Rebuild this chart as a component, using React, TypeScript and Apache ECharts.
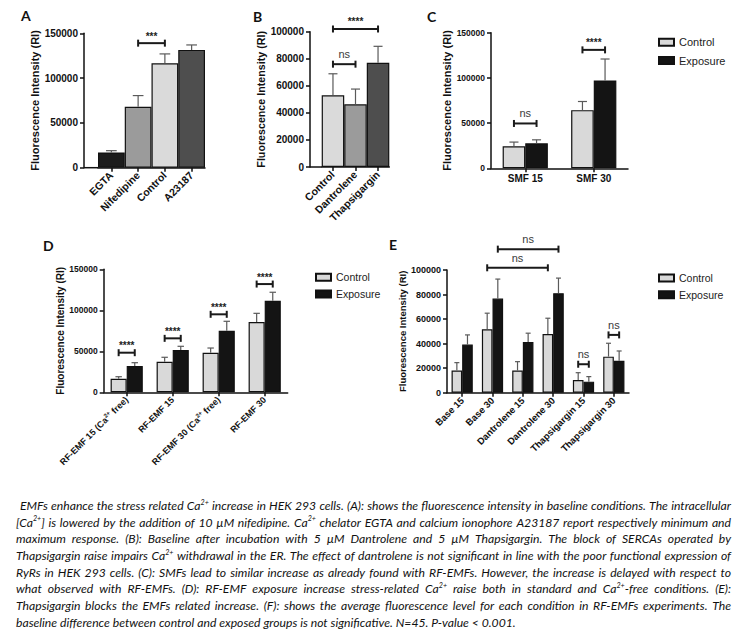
import React, { useEffect, useRef } from 'react';
import * as echarts from 'echarts';

const FONT = '"Liberation Sans", Arial, Helvetica, sans-serif';
const CAP_FONT = 'Lato, "Open Sans", sans-serif';
const LETTER_FONT = 'Lato, "Open Sans", sans-serif';
const Y_TITLE = 'Fluorescence Intensity (RI)';

// ---------- Panel A ----------
const catsA = ['EGTA', 'Nifedipine', 'Control', 'A23187'];
const valsA = [17000, 68000, 116500, 131500];
const errA = [2000, 12500, 10500, 5500];
const colorsA = ['#1c1c1c', '#9b9b9b', '#dadada', '#4e4e4e'];

// ---------- Panel B ----------
const catsB = ['Control', 'Dantrolene', 'Thapsigargin'];
const valsB = [53000, 46300, 77000];
const errB = [15900, 11300, 12200];
const colorsB = ['#dadada', '#9b9b9b', '#4e4e4e'];

// ---------- Panel C ----------
const catsC = ['SMF 15', 'SMF 30'];
const ctrlC = [24300, 64300];
const ctrlErrC = [4700, 9600];
const expC = [27600, 97100];
const expErrC = [3900, 23800];

// ---------- Panel D ----------
const catsD = ['RF-EMF 15 (Ca2+ free)', 'RF-EMF 15', 'RF-EMF 30 (Ca2+ free)', 'RF-EMF 30'];
const ctrlD = [16600, 37300, 48300, 85700];
const ctrlErrD = [2400, 5400, 5700, 10600];
const expD = [32000, 51600, 75100, 111700];
const expErrD = [4100, 4500, 11500, 10300];

// ---------- Panel E ----------
const catsE = ['Base 15', 'Base 30', 'Dantrolene 15', 'Dantrolene 30', 'Thapsigargin 15', 'Thapsigargin 30'];
const ctrlE = [18000, 51700, 18000, 47900, 10400, 29400];
const ctrlErrE = [6500, 13100, 7300, 12800, 5900, 10900];
const expE = [39200, 76700, 41400, 81100, 9000, 26100];
const expErrE = [7900, 15900, 7100, 12300, 4100, 7900];

// significance brackets: [cat1, side1, cat2, side2, value, label]
const sigA: any[] = [[1, 0, 2, 0, 139000, '***']];
const sigB: any[] = [[0, 0, 1, 0, 76000, 'ns'], [0, 0, 2, 0, 102000, '****']];
const sigC: any[] = [[0, -1, 0, 1, 49600, 'ns'], [1, -1, 1, 1, 131000, '****']];
const sigD: any[] = [
  [0, -1, 0, 1, 48300, '****'],
  [1, -1, 1, 1, 65800, '****'],
  [2, -1, 2, 1, 95100, '****'],
  [3, -1, 3, 1, 132000, '****'],
];
const sigE: any[] = [
  [1, 1, 3, 1, 117000, 'ns'],
  [1, -1, 3, -1, 101800, 'ns'],
  [4, -1, 4, 1, 23200, 'ns'],
  [5, -1, 5, 1, 47100, 'ns'],
];

const legendNames = ['Control', 'Exposure'];
const panelLetters = ['A', 'B', 'C', 'D', 'E'];

// caption lines ({...} = superscript)
const captionLines = [
  ' EMFs enhance the stress related Ca{2+} increase in HEK 293 cells. (A): shows the fluorescence intensity in baseline conditions. The intracellular',
  '[Ca{2+}] is lowered by the addition of 10 µM nifedipine. Ca{2+} chelator EGTA and calcium ionophore A23187 report respectively minimum and',
  'maximum response. (B): Baseline after incubation with 5 µM Dantrolene and 5 µM Thapsigargin. The block of SERCAs operated by',
  'Thapsigargin raise impairs Ca{2+} withdrawal in the ER. The effect of dantrolene is not significant in line with the poor functional expression of',
  'RyRs in HEK 293 cells. (C): SMFs lead to similar increase as already found with RF-EMFs. However, the increase is delayed with respect to',
  'what observed with RF-EMFs. (D): RF-EMF exposure increase stress-related Ca{2+} raise both in standard and Ca{2+}-free conditions. (E):',
  'Thapsigargin blocks the EMFs related increase. (F): shows the average fluorescence level for each condition in RF-EMFs experiments. The',
  'baseline difference between control and exposed groups is not significative. N=45. P-value < 0.001.',
];

// ---------- layout ----------
const GRIDS = [
  { left: 98, top: 33.3, width: 107, height: 134.4 },
  { left: 321.7, top: 31.7, width: 67.6, height: 135.3 },
  { left: 491, top: 32.7, width: 137, height: 135.6 },
  { left: 103.7, top: 269.3, width: 184, height: 123 },
  { left: 447, top: 270, width: 182, height: 122.7 },
];
const Y_OFFSETS = [14, 11.7, 0, 0, 0];
const LETTER_POS = [[21, 15], [253, 16], [427, 16], [43, 245], [389, 244]];
const AXIS_COLOR = '#111';
const CTRL_COLOR = '#d9d9d9';
const EXP_COLOR = '#141414';
const BORDER = { borderColor: '#111', borderWidth: 1.2 };

function yAxis(gi: number, max: number, interval: number, labelSize: number, nameSize: number, nameGap: number) {
  return {
    type: 'value', gridIndex: gi, min: 0, max, interval, offset: Y_OFFSETS[gi],
    name: Y_TITLE, nameLocation: 'middle', nameGap,
    nameTextStyle: { fontFamily: FONT, fontWeight: 'bold', fontSize: nameSize, color: '#111' },
    axisLine: { show: true, lineStyle: { color: AXIS_COLOR, width: 1.5 } },
    axisTick: { show: true, length: 4, lineStyle: { color: AXIS_COLOR, width: 1.5 } },
    axisLabel: {
      fontFamily: FONT, fontWeight: 'bold', fontSize: labelSize, color: '#111', margin: 6,
      formatter: (v: number) => String(v),
    },
    splitLine: { show: false },
  };
}

function xAxis(gi: number, data: string[], labelSize: number, rotate: number, extra: any = {}) {
  return {
    type: 'category', gridIndex: gi, data,
    axisLine: { show: true, lineStyle: { color: AXIS_COLOR, width: 1.5 } },
    axisTick: { show: true, alignWithLabel: true, interval: 0, length: 4, lineStyle: { color: AXIS_COLOR, width: 1.5 } },
    axisLabel: {
      interval: 0, rotate, fontFamily: FONT, fontWeight: 'bold', fontSize: labelSize, color: '#111', margin: 6,
      ...extra,
    },
  };
}

function bandInfo(api: any, gap: number, n: number) {
  const p0 = api.coord([0, 0]);
  const p1 = api.coord([1, 0]);
  const band = p1[0] - p0[0];
  return band * (1 - gap) / n;
}

function errSeries(gi: number, vals: number[], errs: number[], side: number, gap: number, n: number) {
  return {
    type: 'custom', name: 'err' + gi + side, xAxisIndex: gi, yAxisIndex: gi, silent: true, clip: false, z: 3,
    data: vals.map((v, i) => [i, v, v + errs[i]]),
    encode: { x: 0, y: [1, 2] },
    renderItem: (params: any, api: any) => {
      const bw = bandInfo(api, gap, n);
      const c = api.coord([api.value(0), api.value(1)]);
      const h = api.coord([api.value(0), api.value(2)]);
      const x = c[0] + side * bw / 2;
      const cap = Math.max(2.5, bw * 0.2);
      const st = { stroke: '#5a5a5a', lineWidth: 1.2 };
      return {
        type: 'group', children: [
          { type: 'line', shape: { x1: x, y1: c[1], x2: x, y2: h[1] }, style: st },
          { type: 'line', shape: { x1: x - cap, y1: h[1], x2: x + cap, y2: h[1] }, style: st },
        ],
      };
    },
  };
}

function sigSeries(gi: number, list: any[], gap: number, n: number) {
  return {
    type: 'custom', name: 'sig' + gi, xAxisIndex: gi, yAxisIndex: gi, silent: true, clip: false, z: 4,
    data: list.map((b) => [b[0], b[4], b[2]]),
    encode: { x: [0, 2], y: 1 },
    renderItem: (params: any, api: any) => {
      const b = list[params.dataIndex];
      const bw = bandInfo(api, gap, n);
      const a = api.coord([b[0], b[4]]);
      const c = api.coord([b[2], b[4]]);
      const x1 = a[0] + b[1] * bw / 2;
      const x2 = c[0] + b[3] * bw / 2;
      const y = a[1];
      const stars = b[5] !== 'ns';
      const st = { stroke: '#1a1a1a', lineWidth: 2 };
      return {
        type: 'group', children: [
          { type: 'line', shape: { x1, y1: y, x2, y2: y }, style: st },
          { type: 'line', shape: { x1, y1: y - 3.5, x2: x1, y2: y + 3.5 }, style: st },
          { type: 'line', shape: { x1: x2, y1: y - 3.5, x2, y2: y + 3.5 }, style: st },
          {
            type: 'text', x: (x1 + x2) / 2, y: y - (stars ? 7 : 10),
            style: {
              text: b[5], align: 'center', textAlign: 'center', verticalAlign: 'middle', textVerticalAlign: 'middle',
              fontFamily: FONT, fontSize: stars ? 10 : 11, fontWeight: stars ? 'bold' : 'normal',
              fill: stars ? '#222' : '#3a3a3a',
            },
          },
        ],
      };
    },
  };
}

function parseSegments(word: string) {
  const segs: { t: string; sup: boolean }[] = [];
  const re = /\{([^}]*)\}/g;
  let last = 0;
  let m: RegExpExecArray | null;
  while ((m = re.exec(word))) {
    if (m.index > last) segs.push({ t: word.slice(last, m.index), sup: false });
    segs.push({ t: m[1], sup: true });
    last = m.index + m[0].length;
  }
  if (last < word.length) segs.push({ t: word.slice(last), sup: false });
  return segs;
}

function captionElements() {
  const canvas = document.createElement('canvas');
  const ctx = canvas.getContext('2d') as CanvasRenderingContext2D;
  const left = 16;
  const right = 731;
  const top = 505.7;
  const lh = 16.65;
  const size = 12;
  const supSize = 7;
  const measure = (t: string, s: number) => {
    ctx.font = `italic ${s}px ${CAP_FONT}`;
    return ctx.measureText(t).width;
  };
  const wordWidth = (w: string) =>
    parseSegments(w).reduce((acc, sg) => acc + measure(sg.t, sg.sup ? supSize : size), 0);
  // horizontal condensing so the longest line fits naturally (narrow original font)
  let maxW = 0;
  captionLines.forEach((ln) => {
    const words = ln.trim().split(' ');
    const w = words.reduce((a, wd) => a + wordWidth(wd), 0) + (words.length - 1) * measure(' ', size);
    maxW = Math.max(maxW, w);
  });
  const sx = ((right - left) * 0.985) / maxW;
  const els: any[] = [];
  captionLines.forEach((ln, li) => {
    const y = top + li * lh;
    const indent = ln.startsWith(' ') ? 4 : 0;
    const words = ln.trim().split(' ');
    const widths = words.map((w) => wordWidth(w) * sx);
    const total = widths.reduce((a, b) => a + b, 0);
    const isLast = li === captionLines.length - 1;
    const gapW = isLast || words.length < 2 ? measure(' ', size) * sx : (right - left - indent - total) / (words.length - 1);
    let x = left + indent;
    words.forEach((w, wi) => {
      let px = x;
      parseSegments(w).forEach((sg) => {
        const fs = sg.sup ? supSize : size;
        els.push({
          type: 'text', x: px, y: sg.sup ? y - 3.5 : y, scaleX: sx, silent: true,
          style: {
            text: sg.t, fontSize: fs, fontFamily: CAP_FONT, fontStyle: 'italic', fill: '#111',
            align: 'left', textAlign: 'left', verticalAlign: 'middle', textVerticalAlign: 'middle',
          },
        });
        px += measure(sg.t, fs) * sx;
      });
      x += widths[wi] + gapW;
    });
  });
  return els;
}

function buildOption() {
  const richLabel = (v: string) => {
    const i = v.indexOf('Ca2+');
    if (i < 0) return `{b|${v}}`;
    return `{b|${v.slice(0, i)}Ca}{s|2+}{b|${v.slice(i + 4)}}`;
  };

  const legendCommon = (left: number, top: number, fs: number, lhgt: number, gap: number) => ({
    data: legendNames, left, top, orient: 'vertical', itemWidth: 15, itemHeight: 7, itemGap: gap,
    icon: 'rect', selectedMode: false, padding: 0,
    textStyle: { fontFamily: FONT, fontSize: fs, color: '#222', lineHeight: lhgt },
  });

  const graphics: any[] = [];
  panelLetters.forEach((L, i) => {
    graphics.push({
      type: 'text', x: LETTER_POS[i][0], y: LETTER_POS[i][1], silent: true,
      style: {
        text: L, fontFamily: LETTER_FONT, fontWeight: 'bold', fontSize: 14, fill: '#111',
        align: 'left', textAlign: 'left', verticalAlign: 'middle', textVerticalAlign: 'middle',
      },
    });
  });
  // x-axis line extension from offset y-axis to the first bar (GraphPad style)
  [0, 1].forEach((gi) => {
    const g = GRIDS[gi];
    const yb = g.top + g.height;
    graphics.push({
      type: 'line', silent: true,
      shape: { x1: g.left - Y_OFFSETS[gi], y1: yb, x2: g.left, y2: yb },
      style: { stroke: AXIS_COLOR, lineWidth: 1.5 },
    });
  });
  captionElements().forEach((e) => graphics.push(e));

  const barBase = { type: 'bar', barGap: '0%', silent: true };

  return {
    animation: false,
    backgroundColor: '#ffffff',
    textStyle: { fontFamily: FONT },
    grid: GRIDS.map((g) => ({ ...g, containLabel: false })),
    legend: [
      legendCommon(658, 36.3, 11, 12, 6.2),
      legendCommon(315, 271.8, 10.5, 11, 5.7),
      legendCommon(658, 272.5, 10.5, 11, 5.7),
    ],
    xAxis: [
      xAxis(0, catsA, 10.5, 45),
      xAxis(1, catsB, 10.5, 45),
      xAxis(2, catsC, 10, 0, { margin: 5 }),
      xAxis(3, catsD, 9, 45, {
        formatter: richLabel,
        rich: {
          b: { fontFamily: FONT, fontWeight: 'bold', fontSize: 9, color: '#111', lineHeight: 11 },
          s: { fontFamily: FONT, fontWeight: 'bold', fontSize: 6, color: '#111', lineHeight: 7, verticalAlign: 'top' },
        },
      }),
      xAxis(4, catsE, 9.5, 45),
    ],
    yAxis: [
      yAxis(0, 150000, 50000, 10, 11, 32),
      yAxis(1, 100000, 20000, 10, 10.7, 35),
      yAxis(2, 150000, 50000, 8.5, 11, 38),
      yAxis(3, 150000, 50000, 8.5, 10, 31),
      yAxis(4, 100000, 20000, 9, 9.5, 37),
    ],
    series: [
      {
        ...barBase, name: 'A', xAxisIndex: 0, yAxisIndex: 0, barCategoryGap: '0%',
        data: valsA.map((v, i) => ({ value: v, itemStyle: { color: colorsA[i], ...BORDER } })),
      },
      errSeries(0, valsA, errA, 0, 0, 1),
      sigSeries(0, sigA, 0, 1),

      {
        ...barBase, name: 'B', xAxisIndex: 1, yAxisIndex: 1, barCategoryGap: '0%',
        data: valsB.map((v, i) => ({ value: v, itemStyle: { color: colorsB[i], ...BORDER } })),
      },
      errSeries(1, valsB, errB, 0, 0, 1),
      sigSeries(1, sigB, 0, 1),

      { ...barBase, name: 'Control', xAxisIndex: 2, yAxisIndex: 2, barCategoryGap: '34%', data: ctrlC, itemStyle: { color: CTRL_COLOR, ...BORDER } },
      { ...barBase, name: 'Exposure', xAxisIndex: 2, yAxisIndex: 2, barCategoryGap: '34%', data: expC, itemStyle: { color: EXP_COLOR, ...BORDER } },
      errSeries(2, ctrlC, ctrlErrC, -1, 0.34, 2),
      errSeries(2, expC, expErrC, 1, 0.34, 2),
      sigSeries(2, sigC, 0.34, 2),

      { ...barBase, name: 'Control', xAxisIndex: 3, yAxisIndex: 3, barCategoryGap: '30%', data: ctrlD, itemStyle: { color: CTRL_COLOR, ...BORDER } },
      { ...barBase, name: 'Exposure', xAxisIndex: 3, yAxisIndex: 3, barCategoryGap: '30%', data: expD, itemStyle: { color: EXP_COLOR, ...BORDER } },
      errSeries(3, ctrlD, ctrlErrD, -1, 0.3, 2),
      errSeries(3, expD, expErrD, 1, 0.3, 2),
      sigSeries(3, sigD, 0.3, 2),

      { ...barBase, name: 'Control', xAxisIndex: 4, yAxisIndex: 4, barCategoryGap: '30%', data: ctrlE, itemStyle: { color: CTRL_COLOR, ...BORDER } },
      { ...barBase, name: 'Exposure', xAxisIndex: 4, yAxisIndex: 4, barCategoryGap: '30%', data: expE, itemStyle: { color: EXP_COLOR, ...BORDER } },
      errSeries(4, ctrlE, ctrlErrE, -1, 0.3, 2),
      errSeries(4, expE, expErrE, 1, 0.3, 2),
      sigSeries(4, sigE, 0.3, 2),
    ],
    graphic: graphics,
  };
}

export default function App() {
  const ref = useRef<HTMLDivElement>(null);
  useEffect(() => {
    const chart = echarts.init(ref.current as HTMLDivElement, undefined, { renderer: 'svg', width: 747, height: 644 });
    chart.setOption(buildOption() as any);
    return () => chart.dispose();
  }, []);
  return (
    <div
      ref={ref}
      style={{ position: 'fixed', left: 0, top: 0, width: 747, height: 644, background: '#fff' }}
    />
  );
}
